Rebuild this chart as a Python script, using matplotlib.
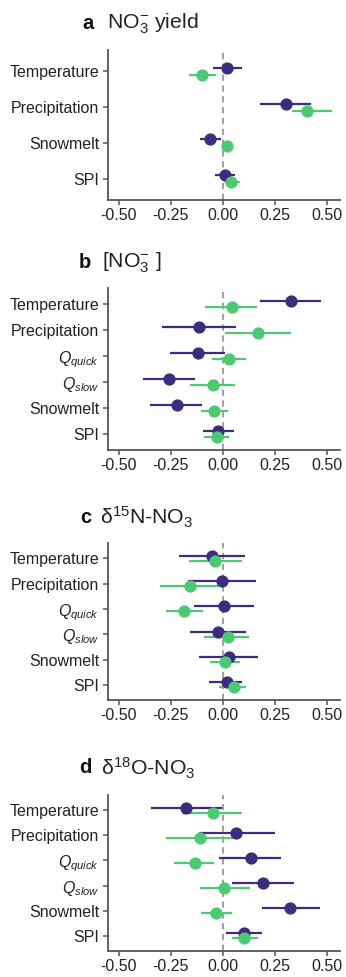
import numpy as np
import matplotlib.pyplot as plt

plt.rcParams['font.family'] = ['Liberation Sans', 'DejaVu Sans']
plt.rcParams['mathtext.fontset'] = 'custom'
plt.rcParams['mathtext.rm'] = 'Liberation Sans'
plt.rcParams['mathtext.it'] = 'Liberation Sans:italic'
plt.rcParams['mathtext.bf'] = 'Liberation Sans:bold'

purple = '#3d2b7d'
green = '#4ec872'

# Category labels (top to bottom)
labels_a = ['Temperature', 'Precipitation', 'Snowmelt', 'SPI']
labels_bcd = ['Temperature', 'Precipitation', r'$Q_{quick}$', r'$Q_{slow}$', 'Snowmelt', 'SPI']

# Panel a: NO3 yield  (estimate, low, high)
a_purple = [0.021, 0.300, -0.060, 0.008]
a_purple_lo = [-0.048, 0.177, -0.108, -0.040]
a_purple_hi = [0.092, 0.424, -0.008, 0.056]
a_green = [-0.100, 0.403, 0.019, 0.040]
a_green_lo = [-0.161, 0.331, 0.000, 0.011]
a_green_hi = [-0.032, 0.524, 0.040, 0.081]

# Panel b: [NO3]
b_purple = [0.326, -0.115, -0.120, -0.258, -0.220, -0.025]
b_purple_lo = [0.177, -0.290, -0.255, -0.384, -0.350, -0.097]
b_purple_hi = [0.470, 0.062, 0.011, -0.136, -0.100, 0.054]
b_green = [0.043, 0.169, 0.030, -0.049, -0.041, -0.030]
b_green_lo = [-0.084, 0.011, -0.054, -0.157, -0.104, -0.089]
b_green_hi = [0.165, 0.328, 0.112, 0.059, 0.022, 0.030]

# Panel c: d15N-NO3
c_purple = [-0.052, -0.005, 0.006, -0.025, 0.027, 0.017]
c_purple_lo = [-0.210, -0.168, -0.139, -0.160, -0.116, -0.065]
c_purple_hi = [0.106, 0.160, 0.149, 0.109, 0.168, 0.093]
c_green = [-0.036, -0.160, -0.187, 0.022, 0.011, 0.051]
c_green_lo = [-0.163, -0.302, -0.274, -0.093, -0.062, -0.017]
c_green_hi = [0.090, -0.017, -0.097, 0.125, 0.081, 0.112]

# Panel d: d18O-NO3
d_purple = [-0.176, 0.062, 0.136, 0.191, 0.323, 0.101]
d_purple_lo = [-0.347, -0.116, -0.017, 0.041, 0.185, 0.014]
d_purple_hi = [-0.005, 0.248, 0.280, 0.339, 0.465, 0.188]
d_green = [-0.049, -0.112, -0.136, 0.006, -0.033, 0.101]
d_green_lo = [-0.195, -0.275, -0.234, -0.112, -0.104, 0.041]
d_green_hi = [0.093, 0.046, -0.041, 0.128, 0.041, 0.169]

xticks = [-0.50, -0.25, 0.00, 0.25, 0.50]

panels = [
    ('a', r'NO$_3^{-}$ yield', labels_a,
     (a_purple, a_purple_lo, a_purple_hi), (a_green, a_green_lo, a_green_hi),
     [0.311, 0.7953, 0.671, 0.1535], 0.095, 0.976, 0.236, 0.308),
    ('b', r'[NO$_3^{-}$ ]', labels_bcd,
     (b_purple, b_purple_lo, b_purple_hi), (b_green, b_green_lo, b_green_hi),
     [0.311, 0.5394, 0.671, 0.1658], 0.12, 0.731, 0.224, 0.296),
    ('c', 'δ$^{15}$N-NO$_3$', labels_bcd,
     (c_purple, c_purple_lo, c_purple_hi), (c_green, c_green_lo, c_green_hi),
     [0.311, 0.2835, 0.671, 0.1607], 0.10, 0.470, 0.230, 0.289),
    ('d', 'δ$^{18}$O-NO$_3$', labels_bcd,
     (d_purple, d_purple_lo, d_purple_hi), (d_green, d_green_lo, d_green_hi),
     [0.311, 0.0266, 0.671, 0.1597], 0.10, 0.214, 0.228, 0.291),
]

fig = plt.figure(figsize=(3.46, 9.77), dpi=100)

for letter, title, labels, pur, grn, rect, offset, ty, lx, tx in panels:
    ax = fig.add_axes(rect)
    n = len(labels)
    ypos = np.arange(n)[::-1].astype(float)
    ax.axvline(0, color='#999999', linestyle=(0, (3.5, 2.5)), linewidth=1.3, zorder=1)
    for (est, lo, hi), col, dy in [(pur, purple, offset), (grn, green, -offset)]:
        est = np.array(est)
        ax.hlines(ypos + dy, lo, hi, color=col, linewidth=1.6, zorder=2)
        ax.plot(est, ypos + dy, 'o', color=col, markersize=7.8, zorder=3)
    ax.set_ylim(-0.6, n - 1 + 0.6)
    ax.set_xlim(-0.553, 0.56)
    ax.set_yticks(ypos)
    ax.set_yticklabels(labels)
    ax.set_xticks(xticks)
    ax.set_xticklabels([f'{v:.2f}' for v in xticks])
    for s in ['top', 'right']:
        ax.spines[s].set_visible(False)
    for s in ['left', 'bottom']:
        ax.spines[s].set_color('#555555')
        ax.spines[s].set_linewidth(1.3)
    ax.tick_params(axis='both', colors='#555555', labelcolor='#222222',
                   labelsize=11.5, length=3.5, width=1.1, pad=2.5)
    fig.text(lx, ty, r'$\mathbf{' + letter + '}$', fontsize=14.5,
             ha='left', va='center', color='#111111')
    fig.text(tx, ty, title, fontsize=15.3, ha='left', va='center', color='#222222')

fig.savefig('out.png', dpi=100)
